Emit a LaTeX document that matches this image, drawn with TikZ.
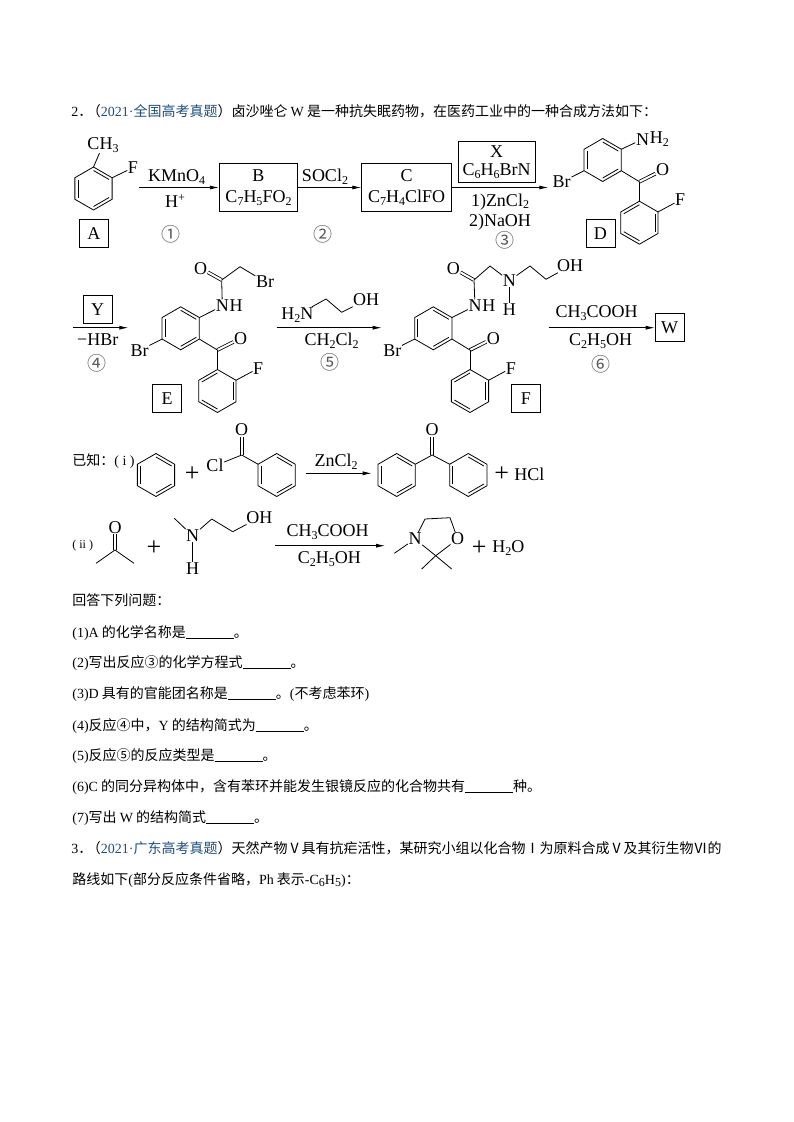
\documentclass[tikz,border=0pt]{standalone}
\usepackage{fontspec}
\usepackage{tikz}
\usetikzlibrary{arrows.meta,positioning}
\setmainfont{Liberation Serif}
\newfontfamily\cjk{Noto Sans CJK SC}
\definecolor{qblue}{HTML}{1F4E79}
\newcommand{\chemfont}{\fontsize{18}{18}\selectfont}
\newcommand{\low}[1]{\raisebox{-0.35ex}{\fontsize{12}{12}\selectfont #1}}
\newcommand{\high}[1]{\raisebox{0.8ex}{\fontsize{12}{12}\selectfont #1}}
\newcommand{\tn}[1]{{\rmfamily #1}}
\newcommand{\blankline}{\rule[-1.5pt]{48pt}{0.7pt}}
\newcommand{\ringat}[3]{%
    \begin{scope}[shift={(#2)}]
        \foreach \k in {1,...,6}
            \coordinate (#1\k) at ({-150+60*\k}:21.5);
        \draw (#11) -- (#12) -- (#13) -- (#14) -- (#15) -- (#16) -- cycle;
        \foreach \a/\b in {#3}
            \draw ({-150+60*\a}:18) -- ({-150+60*\b}:18);
    \end{scope}%
}
\tikzset{
    atom/.style={font=\chemfont, inner sep=0.3pt},
    cond/.style={font=\chemfont, inner sep=0pt},
    tag/.style={draw, inner sep=0pt, minimum width=29pt, minimum height=28pt, font=\chemfont},
    wide/.style={draw, inner sep=0pt, align=center, font=\chemfont},
    numb/.style={font=\cjk\fontsize{19}{19}\selectfont, text=black!65, inner sep=0pt},
    plus/.style={font=\fontsize{26}{26}\selectfont, inner sep=0pt},
    qtext/.style={font=\cjk\fontsize{14}{14}\selectfont, anchor=base west, inner sep=0pt},
    dbl/.style={double, double distance=2pt},
    goes/.style={-{Latex[length=9pt,width=4pt]}},
    benzoyl/.pic={
        \ringat{up}{0,0}{1/2,3/4,5/6}
        \ringat{lo}{36.7,62.7}{2/3,4/5,6/1}
        \coordinate (kc) at (36.7,21.7);
        \node (ko) at (60,10) [atom] {O};
        \node (br) at (-41,22) [atom] {Br};
        \node (fl) at (77.5,40) [atom] {F};
        \draw[dbl] (kc) -- (ko);
        \draw (up3) -- (kc);
        \draw (kc) -- (lo1);
        \draw (up5) -- (br);
        \draw (lo2) -- (fl);
    }
}
\begin{document}
\begin{tikzpicture}[x=1pt,y=-1pt,line width=0.8pt]
    \useasboundingbox (0,0) rectangle (793,1122);

    \node (qtwo) at (71,116) [qtext] {\tn{2}．\hspace{-5.5pt}（\textcolor{qblue}{\tn{2021·}全国高考真题}）卤沙唑仑 \tn{W} 是一种抗失眠药物，在医药工业中的一种合成方法如下：};

    \ringat{ra}{93.5,188.5}{1/2,3/4,5/6}
    \node (ch) at (103,145) [atom] {CH\low{3}};
    \node (fa) at (133,167.7) [atom] {F};
    \draw (ra1) -- (ch);
    \draw (ra2) -- (fa);
    \node (taga) at (93.8,233.7) [tag] {A};

    \coordinate (sone) at (139,187.5);
    \node (boxb) at (258.5,187.5) [wide, minimum width=78.4pt, minimum height=48.4pt] {B\\[3pt]C\low{7}H\low{5}FO\low{2}};
    \node (boxc) at (406.7,187.5) [wide, minimum width=90pt, minimum height=48.4pt] {C\\[3pt]C\low{7}H\low{4}ClFO};
    \coordinate (ethree) at (548.3,187.5);
    \draw[goes] (sone) -- (boxb);
    \draw[goes] (boxb) -- (boxc);
    \draw[goes] (boxc) -- (ethree);

    \node (kmn) at (176.7,176.7) [cond] {KMnO\low{4}};
    \node (hpl) at (175,201) [cond] {H\high{+}};
    \node (nums) at (170.7,234.3) [numb] {①};
    \node (soc) at (325,176.7) [cond] {SOCl\low{2}};
    \node (numt) at (323.3,234.3) [numb] {②};
    \node (boxx) at (496.7,161.8) [wide, minimum width=76.7pt, minimum height=41.7pt] {X\\C\low{6}H\low{6}BrN};
    \node (zn) at (500,201.7) [cond] {1)ZnCl\low{2}};
    \node (na) at (500,221.7) [cond] {2)NaOH};
    \node (numh) at (505,240) [numb] {③};

    \pic (bd) at (602.7,160) {benzoyl};
    \node (dn) at (642.5,139.3) [atom] {N};
    \node (dh) [atom, right=-0.5pt of dn] {H\low{2}};
    \draw (bdup2) -- (dn);
    \node (tagd) at (600.4,233.7) [tag] {D};

    \coordinate (sfour) at (73.3,327.7);
    \coordinate (efour) at (128.3,327.7);
    \draw[goes] (sfour) -- (efour);
    \node (tagy) at (97.7,309.5) [tag] {Y};
    \node (hbr) at (97.7,340) [cond] {−HBr};
    \node (numf) at (96.7,363.3) [numb] {④};

    \pic (be) at (180.7,328.3) {benzoyl};
    \node (en) at (222.3,306) [atom] {N};
    \node (eh) [atom, right=-0.5pt of en] {H};
    \coordinate (ec) at (221.7,280);
    \coordinate (ecc) at (240,266.7);
    \node (eo) at (200.7,268.3) [atom] {O};
    \node (ebr) at (265,281.7) [atom] {Br};
    \draw (beup2) -- (en);
    \draw (en) -- (ec);
    \draw[dbl] (ec) -- (eo);
    \draw (ec) -- (ecc);
    \draw (ecc) -- (ebr);
    \node (tage) at (167.2,398.3) [tag] {E};

    \coordinate (sfive) at (276.7,327.7);
    \coordinate (efive) at (381.7,327.7);
    \draw[goes] (sfive) -- (efive);
    \node (han) at (297.3,315) [atom] {H\low{2}N};
    \coordinate (hc) at (326,299);
    \coordinate (hd) at (341.7,312.3);
    \node (hoh) at (366,300) [atom] {OH};
    \draw (han) -- (hc);
    \draw (hc) -- (hd);
    \draw (hd) -- (hoh);
    \node (dcm) at (331.7,341) [cond] {CH\low{2}Cl\low{2}};
    \node (numv) at (330,362.7) [numb] {⑤};

    \pic (bf) at (433.3,328.3) {benzoyl};
    \node (fn) at (475,306) [atom] {N};
    \node (fh) [atom, right=-0.5pt of fn] {H};
    \coordinate (fc) at (474,280);
    \coordinate (fcc) at (490,266);
    \node (fo) at (453.3,268.3) [atom] {O};
    \node (fm) at (509.3,280.7) [atom] {N};
    \node (fmh) at (509.3,310) [atom] {H};
    \coordinate (fd) at (530,266);
    \coordinate (fe) at (546,279.3);
    \node (foh) at (570,266) [atom] {OH};
    \draw (bfup2) -- (fn);
    \draw (fn) -- (fc);
    \draw[dbl] (fc) -- (fo);
    \draw (fc) -- (fcc);
    \draw (fcc) -- (fm);
    \draw (fm) -- (fmh);
    \draw (fm) -- (fd);
    \draw (fd) -- (fe);
    \draw (fe) -- (foh);
    \node (tagf) at (525.9,398.6) [tag] {F};

    \coordinate (ssix) at (549,327.7);
    \node (tagw) at (669.6,327.7) [tag] {W};
    \draw[goes] (ssix) -- (tagw);
    \node (acid) at (596.7,313.3) [cond] {CH\low{3}COOH};
    \node (etoh) at (600.7,340.7) [cond] {C\low{2}H\low{5}OH};
    \node (numx) at (601,364) [numb] {⑥};

    \node (known) at (72,465) [qtext] {已知：\tn{( i )}};
    \ringat{ri}{156,475}{1/2,3/4,5/6}
    \node (pone) at (192.3,474.3) [plus] {+};
    \node (cl) at (215,465.7) [atom] {Cl};
    \coordinate (cc) at (241.7,455);
    \node (co) at (241.7,430) [atom] {O};
    \ringat{rj}{276.7,475}{1/2,3/4,5/6}
    \draw (cc) -- (cl);
    \draw[dbl] (cc) -- (co);
    \draw (cc) -- (rj6);
    \coordinate (szn) at (305.7,473.3);
    \coordinate (ezn) at (371.7,473.3);
    \draw[goes] (szn) -- (ezn);
    \node (zncl) at (336,461.7) [cond] {ZnCl\low{2}};
    \ringat{rk}{396.7,475}{1/2,3/4,5/6}
    \ringat{rl}{468.3,475}{1/2,3/4,5/6}
    \coordinate (pc) at (432.2,455);
    \node (po) at (432.2,430) [atom] {O};
    \draw[dbl] (pc) -- (po);
    \draw (rk2) -- (pc);
    \draw (pc) -- (rl6);
    \node (ptwo) at (501.7,474.3) [plus] {+};
    \node (hcl) at (529.3,474.3) [cond] {HCl};

    \node (ktwo) at (72,548) [inner sep=0pt, anchor=base west, font=\fontsize{12}{12}\selectfont] {( ii )};
    \coordinate (kk) at (115,550);
    \node (kko) at (115,527.7) [atom] {O};
    \coordinate (kma) at (96,563.3);
    \coordinate (kmb) at (134,563.3);
    \draw[dbl] (kk) -- (kko);
    \draw (kma) -- (kk) -- (kmb);
    \node (pthr) at (154,547.7) [plus] {+};
    \coordinate (ame) at (174.3,518.3);
    \node (an) at (192.7,535.7) [atom] {N};
    \node (ah) at (192.7,569) [atom] {H};
    \coordinate (aa) at (211.7,519);
    \coordinate (ab) at (232.7,531.7);
    \node (aoh) at (259.3,517.7) [atom] {OH};
    \draw (ame) -- (an);
    \draw (an) -- (ah);
    \draw (an) -- (aa);
    \draw (aa) -- (ab);
    \draw (ab) -- (aoh);
    \coordinate (sac) at (275,545.7);
    \coordinate (eac) at (385,545.7);
    \draw[goes] (sac) -- (eac);
    \node (acidb) at (327.7,532.3) [cond] {CH\low{3}COOH};
    \node (etohb) at (329.3,559) [cond] {C\low{2}H\low{5}OH};
    \coordinate (qme) at (394.3,553.3);
    \node (qn) at (415,539) [atom] {N};
    \coordinate (qa) at (425,519);
    \coordinate (qb) at (450,517.7);
    \node (qo) at (457.7,539) [atom] {O};
    \coordinate (qc) at (435.7,555.7);
    \coordinate (qma) at (421.7,569);
    \coordinate (qmb) at (451.7,569);
    \draw (qme) -- (qn);
    \draw (qn) -- (qa);
    \draw (qa) -- (qb);
    \draw (qb) -- (qo);
    \draw (qo) -- (qc);
    \draw (qc) -- (qn);
    \draw (qma) -- (qc) -- (qmb);
    \node (pfou) at (479.3,547.7) [plus] {+};
    \node (water) at (508.3,548.3) [cond] {H\low{2}O};

    \node (qhead) at (72,605) [qtext] {回答下列问题：};
    \node (qone) at (72,637) [qtext] {\tn{(1)A} 的化学名称是\blankline。};
    \node (qtw) at (72,667) [qtext] {\tn{(2)}写出反应③的化学方程式\blankline。};
    \node (qtr) at (72,698) [qtext] {\tn{(3)D} 具有的官能团名称是\blankline。\tn{(}不考虑苯环\tn{)}};
    \node (qfo) at (72,730) [qtext] {\tn{(4)}反应④中，\tn{Y} 的结构简式为\blankline。};
    \node (qfi) at (72,760) [qtext] {\tn{(5)}反应⑤的反应类型是\blankline。};
    \node (qsi) at (72,791) [qtext] {\tn{(6)C} 的同分异构体中，含有苯环并能发生银镜反应的化合物共有\blankline 种。};
    \node (qse) at (72,822) [qtext] {\tn{(7)}写出 \tn{W} 的结构简式\blankline。};
    \node (qthr) at (71,853) [qtext] {\tn{3}．\hspace{-5.5pt}（\textcolor{qblue}{\tn{2021·}广东高考真题}）天然产物Ⅴ具有抗疟活性，某研究小组以化合物Ⅰ为原料合成Ⅴ及其衍生物Ⅵ的};
    \node (qroute) at (72,884) [qtext] {路线如下\tn{(}部分反应条件省略，\tn{Ph} 表示\tn{-C\low{6}H\low{5})}：};
\end{tikzpicture}
\end{document}
